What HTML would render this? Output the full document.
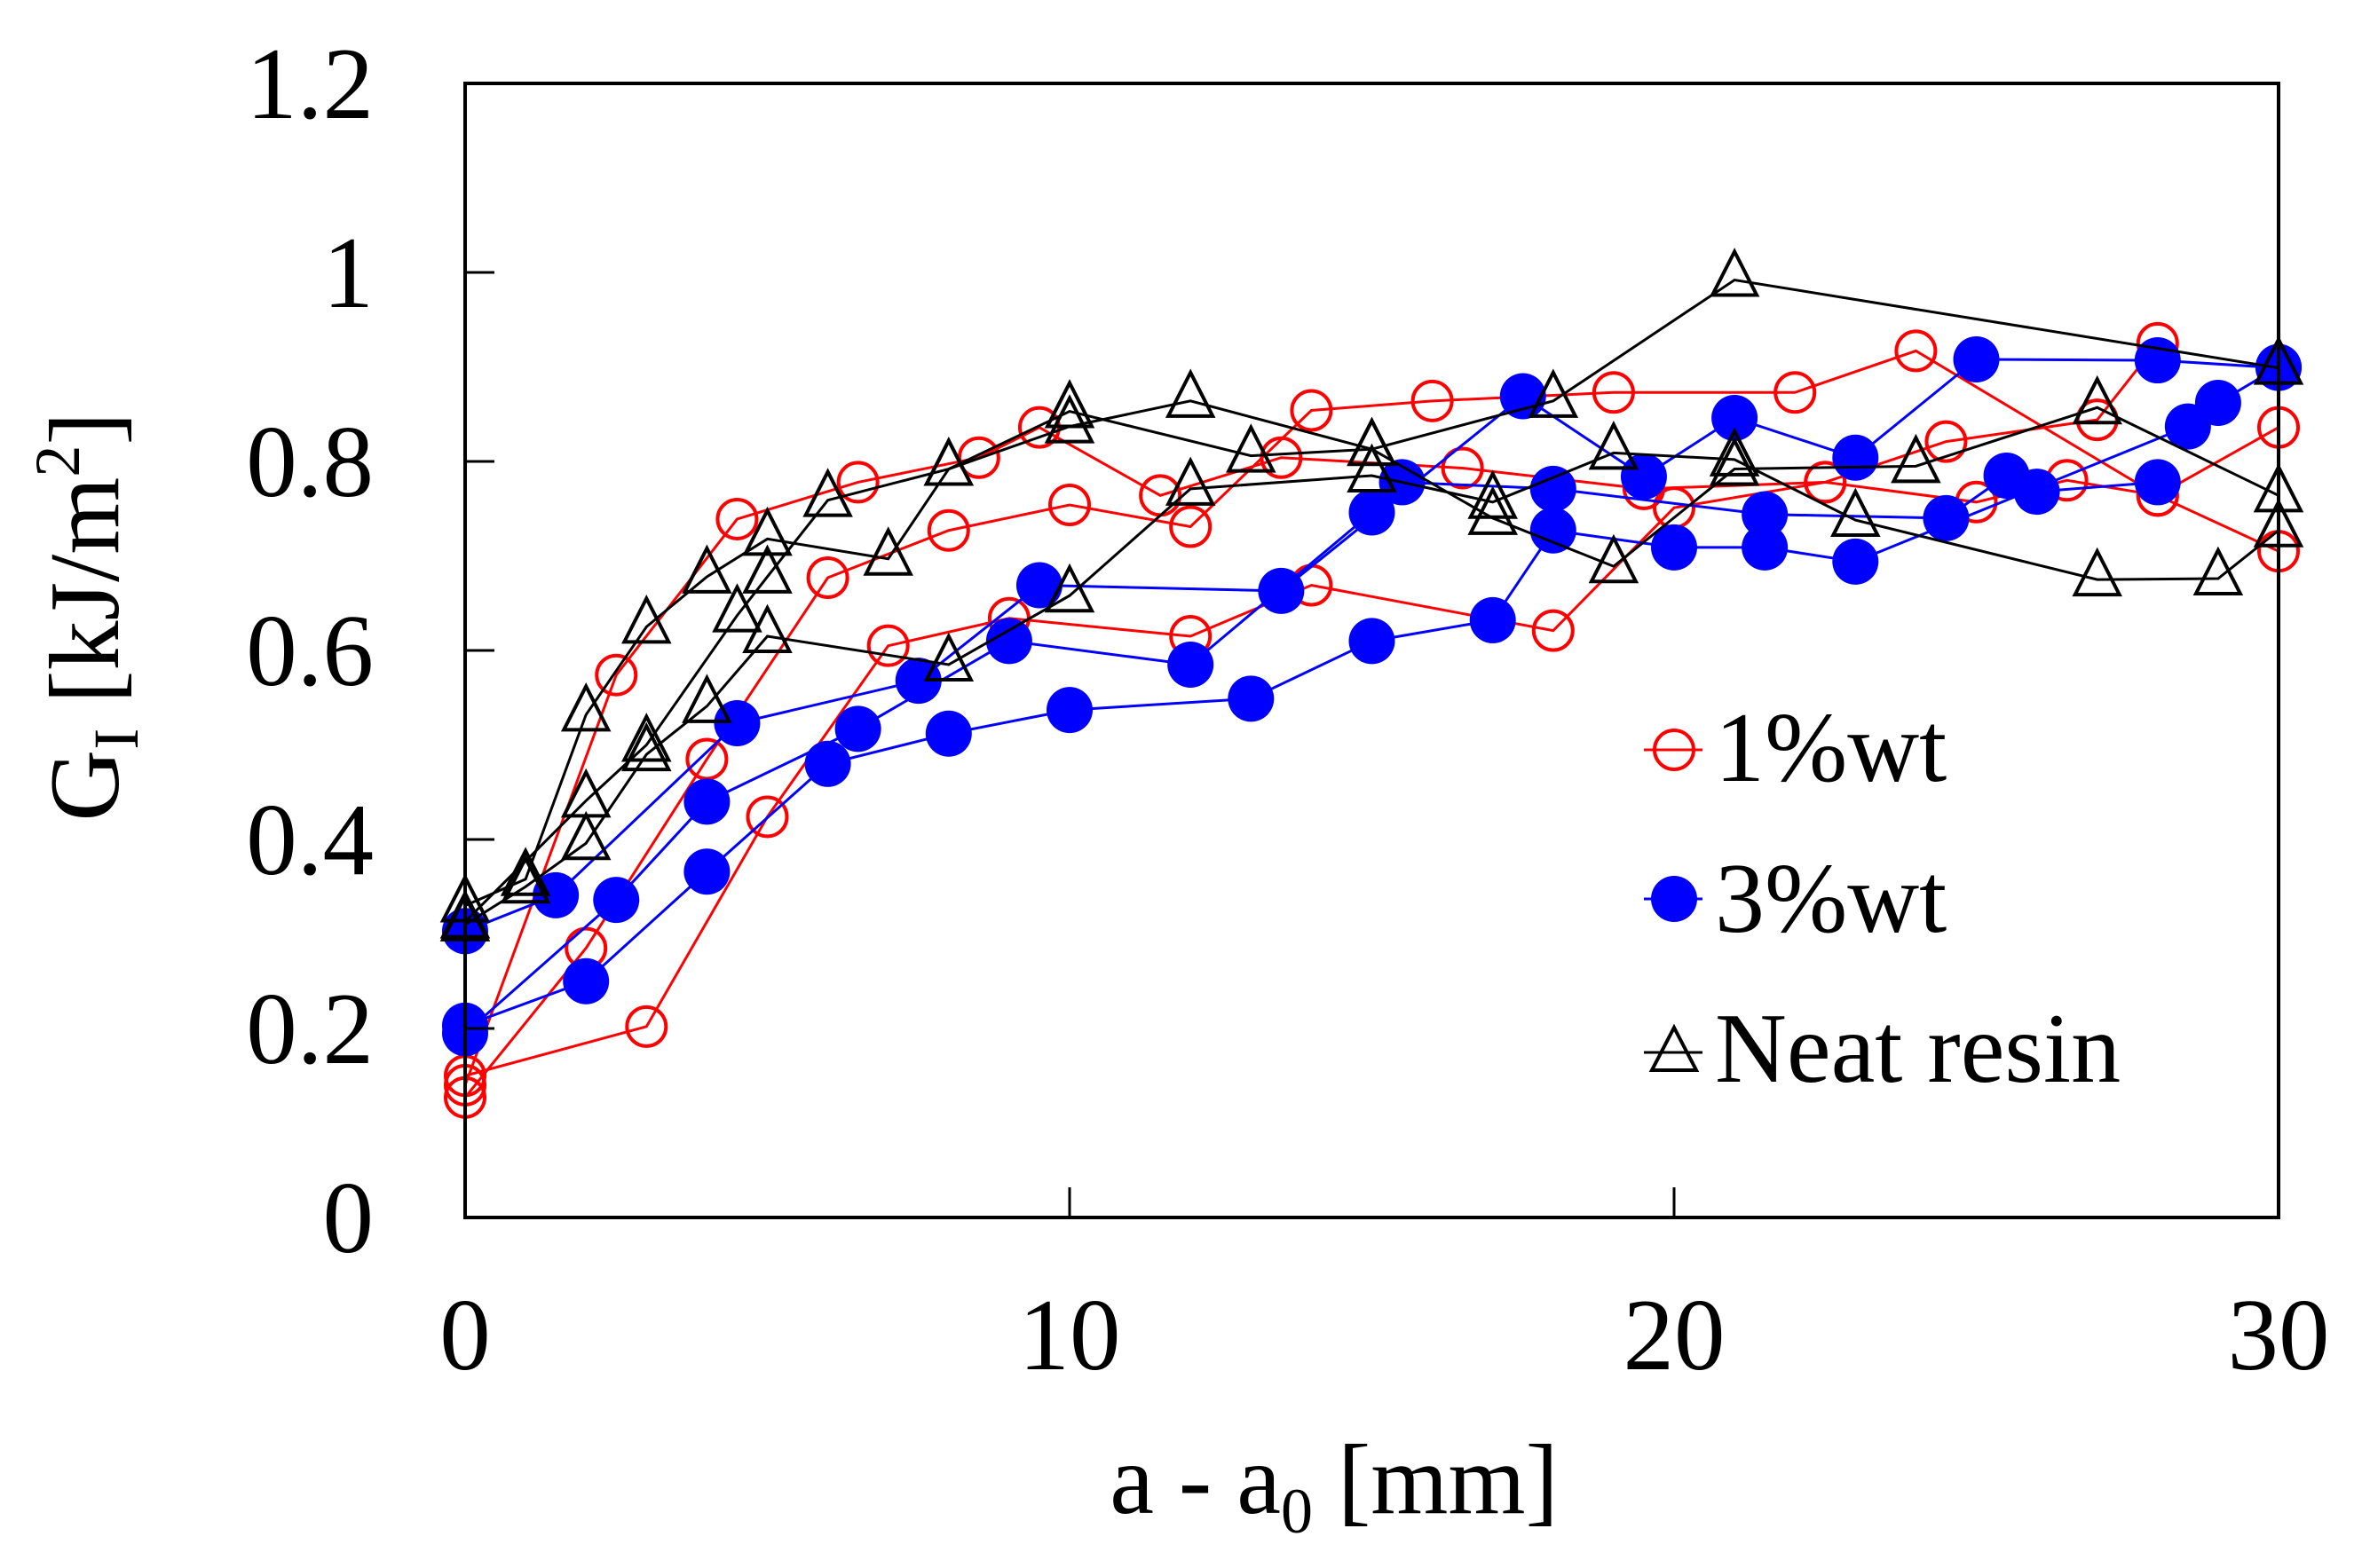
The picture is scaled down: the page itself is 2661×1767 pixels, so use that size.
<!DOCTYPE html>
<html><head><meta charset="utf-8"><style>
html,body{margin:0;padding:0;background:#fff;}
svg{display:block;font-family:"Liberation Serif",serif;}
</style></head><body>
<svg id="chart" width="2661" height="1767" viewBox="0 0 2661 1767" xmlns="http://www.w3.org/2000/svg">
<rect x="0" y="0" width="2661" height="1767" fill="#fff"/>
<g id="series"></g>
<rect x="524" y="94" width="2043" height="1278" fill="none" stroke="#000" stroke-width="4"/>
<g id="axes"></g>
<text x="1503" y="1705" font-size="112" text-anchor="middle">a - a<tspan font-size="72" dy="22">0</tspan><tspan dy="-22"> [mm]</tspan></text>
<text transform="translate(133,695) rotate(-90)" font-size="112" text-anchor="middle">G<tspan font-size="72" dy="22">I</tspan><tspan dy="-22"> [kJ/m</tspan><tspan font-size="72" dy="-44">2</tspan><tspan dy="44">]</tspan></text>
<g>
 <g>
  <line x1="1852" y1="845" x2="1918" y2="845" stroke="#f00" stroke-width="3"/>
  <circle cx="1886" cy="845" r="22" fill="none" stroke="#f00" stroke-width="4"/>
  <text x="1932" y="880" font-size="112">1%wt</text>
 </g>
 <g>
  <line x1="1852" y1="1013" x2="1918" y2="1013" stroke="#00f" stroke-width="3"/>
  <circle cx="1886" cy="1013" r="26" fill="#00f"/>
  <text x="1932" y="1050" font-size="112">3%wt</text>
 </g>
 <g>
  <line x1="1852" y1="1186" x2="1918" y2="1186" stroke="#000" stroke-width="3"/>
  <polygon points="1886,1158 1911,1206 1861,1206" fill="none" stroke="#000" stroke-width="4"/>
  <text x="1932" y="1219" font-size="112">Neat resin</text>
 </g>
</g>
</svg>
<script>
const xTicks = [0, 10, 20, 30];
const yTicks = [0, 0.2, 0.4, 0.6, 0.8, 1.0, 1.2];
const yTickLabels = ["0", "0.2", "0.4", "0.6", "0.8", "1", "1.2"];

const r1aX = [0, 2.5, 4.5, 6.5, 8.5, 9.5, 11.5, 13.5, 16.5, 19.5, 22.5, 24.5, 27, 28];
const r1aY = [0.14, 0.574, 0.739, 0.778, 0.804, 0.836, 0.764, 0.804, 0.793, 0.771, 0.778, 0.821, 0.844, 0.925];
const r1bX = [0, 2, 4, 6, 8, 10, 12, 14, 16, 19, 22, 24, 28, 30];
const r1bY = [0.127, 0.285, 0.485, 0.677, 0.727, 0.754, 0.731, 0.854, 0.864, 0.873, 0.873, 0.917, 0.764, 0.705];
const r1cX = [0, 3, 5, 7, 9, 12, 14, 18, 20, 22.5, 25, 26.5, 28, 30];
const r1cY = [0.15, 0.202, 0.424, 0.605, 0.634, 0.615, 0.669, 0.621, 0.751, 0.778, 0.757, 0.78, 0.764, 0.836];

const b3aX = [0, 1.5, 4.5, 7.5, 9.5, 13.5, 17.5, 19.5, 21, 23, 25, 28, 30];
const b3aY = [0.303, 0.341, 0.523, 0.568, 0.669, 0.663, 0.869, 0.784, 0.846, 0.804, 0.908, 0.907, 0.899];
const b3bX = [0, 2.5, 4, 6.5, 9, 12, 15, 15.5, 18, 21.5, 24.5, 25.5, 26, 28];
const b3bY = [0.195, 0.336, 0.44, 0.517, 0.61, 0.585, 0.746, 0.778, 0.771, 0.744, 0.74, 0.785, 0.768, 0.778];
const b3cX = [0, 2, 4, 6, 8, 10, 13, 15, 17, 18, 20, 21.5, 23, 28.5, 29, 30];
const b3cY = [0.203, 0.25, 0.366, 0.48, 0.512, 0.537, 0.549, 0.61, 0.632, 0.727, 0.709, 0.709, 0.694, 0.837, 0.862, 0.9];

const kaX = [0, 1, 2, 3, 4, 5, 7, 8, 10, 13, 15, 17, 19, 21, 24, 27, 30];
const kaY = [0.33, 0.358, 0.532, 0.625, 0.678, 0.718, 0.697, 0.792, 0.853, 0.806, 0.813, 0.74, 0.689, 0.792, 0.795, 0.857, 0.764];
const kbX = [0, 2, 3, 4.5, 5, 6, 8, 10, 12, 15, 18, 21, 30];
const kbY = [0.313, 0.441, 0.5, 0.637, 0.678, 0.759, 0.792, 0.837, 0.864, 0.813, 0.864, 0.992, 0.899];
const kcX = [0, 1, 2, 3, 4, 5, 8, 10, 12, 15, 17, 19, 21, 23, 27, 29, 30];
const kcY = [0.31, 0.35, 0.396, 0.49, 0.541, 0.615, 0.585, 0.658, 0.771, 0.785, 0.757, 0.809, 0.802, 0.738, 0.675, 0.676, 0.727];

const NS = "http://www.w3.org/2000/svg";
function xScale(v){ return 524 + (v - 0) / 30 * 2043; }
function yScale(v){ return 1372 - v / 1.2 * 1278; }

const seriesLayer = document.getElementById("series");
const axes = document.getElementById("axes");

function drawSeries(xs, ys, kind, name){
  const g = document.createElementNS(NS, "g");
  
  
  const color = kind === "red" ? "#f00" : (kind === "blue" ? "#00f" : "#000");
  const line = document.createElementNS(NS, "polyline");
  line.setAttribute("points", xs.map((x,i)=>xScale(x)+","+yScale(ys[i])).join(" "));
  line.setAttribute("fill", "none");
  line.setAttribute("stroke", color);
  line.setAttribute("stroke-width", "3");
  
  
  g.appendChild(line);
  xs.forEach((x,i)=>{
    const cx = xScale(x), cy = yScale(ys[i]);
    let m;
    if (kind === "red") {
      m = document.createElementNS(NS, "circle");
      m.setAttribute("cx", cx); m.setAttribute("cy", cy); m.setAttribute("r", 22);
      m.setAttribute("fill", "none"); m.setAttribute("stroke", color); m.setAttribute("stroke-width", "4");
    } else if (kind === "blue") {
      m = document.createElementNS(NS, "circle");
      m.setAttribute("cx", cx); m.setAttribute("cy", cy); m.setAttribute("r", 26);
      m.setAttribute("fill", color);
    } else {
      m = document.createElementNS(NS, "polygon");
      m.setAttribute("points", cx+","+(cy-32)+" "+(cx+25)+","+(cy+17)+" "+(cx-25)+","+(cy+17));
      m.setAttribute("fill", "none"); m.setAttribute("stroke", color); m.setAttribute("stroke-width", "4");
    }
    
    
    g.appendChild(m);
  });
  seriesLayer.appendChild(g);
}

drawSeries(r1cX, r1cY, "red", "series-1wt-c");
drawSeries(r1bX, r1bY, "red", "series-1wt-b");
drawSeries(r1aX, r1aY, "red", "series-1wt-a");
drawSeries(b3cX, b3cY, "blue", "series-3wt-c");
drawSeries(b3bX, b3bY, "blue", "series-3wt-b");
drawSeries(b3aX, b3aY, "blue", "series-3wt-a");
drawSeries(kcX, kcY, "black", "series-neat-c");
drawSeries(kbX, kbY, "black", "series-neat-b");
drawSeries(kaX, kaY, "black", "series-neat-a");

xTicks.forEach(t=>{
  const x = xScale(t);
  if (t > 0 && t < 30) {
    const tk = document.createElementNS(NS, "line");
    tk.setAttribute("x1", x); tk.setAttribute("x2", x);
    tk.setAttribute("y1", 1372); tk.setAttribute("y2", 1338);
    tk.setAttribute("stroke", "#000"); tk.setAttribute("stroke-width", "3");
    
    
    axes.appendChild(tk);
  }
  const lb = document.createElementNS(NS, "text");
  lb.setAttribute("x", x); lb.setAttribute("y", 1543);
  lb.setAttribute("font-size", "115"); lb.setAttribute("text-anchor", "middle");
  lb.textContent = String(t);
  
  
  axes.appendChild(lb);
});
yTicks.forEach((t,i)=>{
  const y = yScale(t);
  if (t > 0 && t < 1.2) {
    const tk = document.createElementNS(NS, "line");
    tk.setAttribute("x1", 524); tk.setAttribute("x2", 557);
    tk.setAttribute("y1", y); tk.setAttribute("y2", y);
    tk.setAttribute("stroke", "#000"); tk.setAttribute("stroke-width", "3");
    
    
    axes.appendChild(tk);
  }
  const lb = document.createElementNS(NS, "text");
  lb.setAttribute("x", 421); lb.setAttribute("y", y + 39);
  lb.setAttribute("font-size", "115"); lb.setAttribute("text-anchor", "end");
  lb.textContent = yTickLabels[i];
  
  
  axes.appendChild(lb);
});
</script>
</body></html>
